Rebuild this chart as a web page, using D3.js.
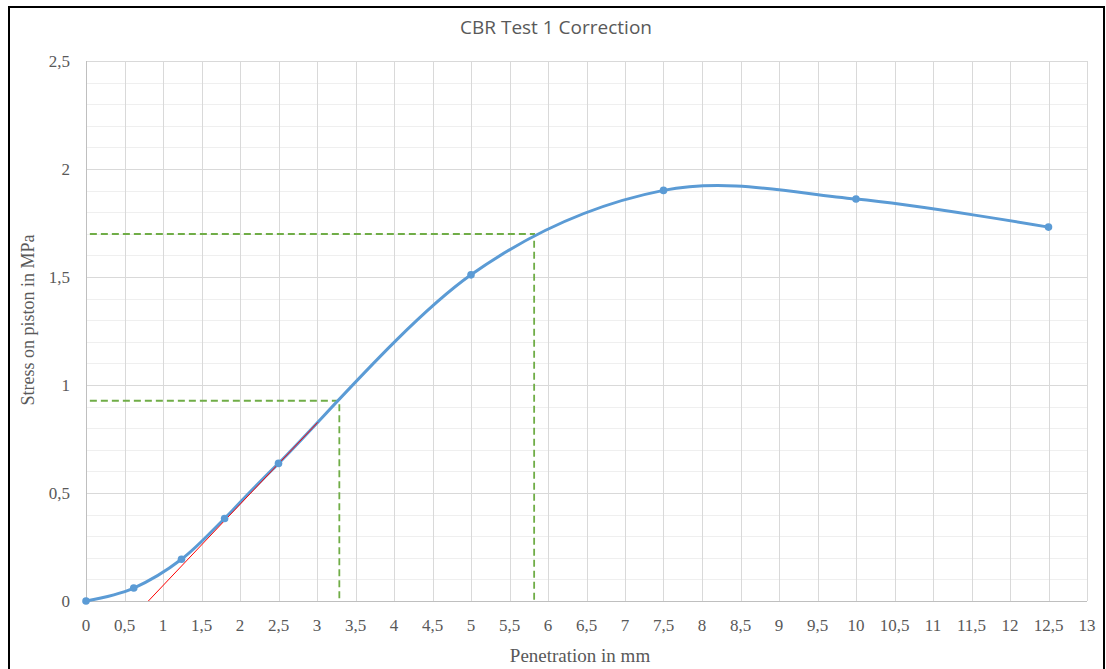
<!DOCTYPE html>
<html><head><meta charset="utf-8">
<script src="https://cdn.jsdelivr.net/npm/d3@7"></script>
<style>html,body{margin:0;padding:0;background:#fff;}</style>
</head><body>
<script>
const penetration = [0, 0.62, 1.24, 1.8, 2.5, 5, 7.5, 10, 12.5];
const stress = [0, 0.06, 0.193, 0.382, 0.637, 1.51, 1.901, 1.861, 1.731];
const tangentLine = [[0.81, 0], [3.01, 0.827]];
const guide1 = [[0.05, 0.927], [3.29, 0.927], [3.29, 0]];
const guide2 = [[0.05, 1.699], [5.82, 1.699], [5.82, 0]];
const xTicks = d3.range(0, 13.01, 0.5);
const yTicks = [0, 0.5, 1, 1.5, 2, 2.5];
const yMinor = d3.range(0, 2.501, 0.1);
const title = "CBR Test 1 Correction";
const xTitle = "Penetration in mm";
const yTitle = "Stress on piston in MPa";

const W = 1106, H = 669;
const svg = d3.select("body").append("svg").attr("width", W).attr("height", H);
svg.append("rect").attr("x", 9).attr("y", 7).attr("width", 1095).attr("height", 700)
  .attr("fill", "#fff").attr("stroke", "#000").attr("stroke-width", 2);

const x = d3.scaleLinear().domain([0, 13]).range([86, 1087]);
const y = d3.scaleLinear().domain([0, 2.5]).range([601, 61]);
const fmt = d => String(+d.toFixed(1)).replace(".", ",");

// minor horizontal grid
svg.append("g").selectAll("line").data(yMinor).join("line")
  .attr("x1", x(0)).attr("x2", x(13)).attr("y1", d => Math.round(y(d)) + 0.5).attr("y2", d => Math.round(y(d)) + 0.5)
  .attr("stroke", "#efefef").attr("stroke-width", 1);
// major grid
svg.append("g").selectAll("line").data(yTicks).join("line")
  .attr("x1", x(0)).attr("x2", x(13)).attr("y1", d => Math.round(y(d)) + 0.5).attr("y2", d => Math.round(y(d)) + 0.5)
  .attr("stroke", "#d9d9d9").attr("stroke-width", 1);
svg.append("g").selectAll("line").data(xTicks).join("line")
  .attr("y1", y(0)).attr("y2", y(2.5)).attr("x1", d => Math.round(x(d)) + 0.5).attr("x2", d => Math.round(x(d)) + 0.5)
  .attr("stroke", "#d9d9d9").attr("stroke-width", 1);
// axis lines
svg.append("line").attr("x1", x(0)).attr("x2", x(13)).attr("y1", Math.round(y(0)) + 0.5).attr("y2", Math.round(y(0)) + 0.5).attr("stroke", "#bfbfbf");
svg.append("line").attr("x1", Math.round(x(0)) + 0.5).attr("x2", Math.round(x(0)) + 0.5).attr("y1", y(0)).attr("y2", y(2.5)).attr("stroke", "#bfbfbf");

// tick labels
const tickFont = "'Liberation Serif','Times New Roman',serif";
svg.append("g").selectAll("text").data(xTicks).join("text")
  .attr("x", d => x(d)).attr("y", 631).attr("text-anchor", "middle")
  .attr("font-family", tickFont).attr("font-size", 17).attr("fill", "#595959").text(fmt);
svg.append("g").selectAll("text").data(yTicks).join("text")
  .attr("x", 70).attr("y", d => y(d) + 6).attr("text-anchor", "end")
  .attr("font-family", tickFont).attr("font-size", 17).attr("fill", "#595959").text(fmt);

// titles
svg.append("text").attr("x", 556).attr("y", 34).attr("text-anchor", "middle")
  .attr("font-family", "'Open Sans','Liberation Sans',sans-serif").attr("font-size", 19).attr("fill", "#595959").text(title);
svg.append("text").attr("x", 580).attr("y", 662).attr("text-anchor", "middle")
  .attr("font-family", tickFont).attr("font-size", 19).attr("fill", "#595959").text(xTitle);
svg.append("text").attr("transform", "translate(34,320) rotate(-90)").attr("text-anchor", "middle")
  .attr("font-family", tickFont).attr("font-size", 18).attr("fill", "#595959").text(yTitle);

// guides
const lineGen = d3.line().x(d => x(d[0])).y(d => y(d[1]));
[guide1, guide2].forEach(g => svg.append("path").attr("d", lineGen(g)).attr("fill", "none")
  .attr("stroke", "#70ad47").attr("stroke-width", 1.8).attr("stroke-dasharray", "7,4"));

// data curve
const pts = penetration.map((p, i) => [p, stress[i]]);
svg.append("path").attr("d", d3.line().x(d => x(d[0])).y(d => y(d[1])).curve(d3.curveCardinal.tension(0))(pts))
  .attr("fill", "none").attr("stroke", "#5b9bd5").attr("stroke-width", 3).attr("stroke-linecap", "round");
// tangent
svg.append("path").attr("d", lineGen(tangentLine)).attr("fill", "none").attr("stroke", "#ff0000").attr("stroke-width", 1);
// markers
svg.append("g").selectAll("circle").data(pts).join("circle")
  .attr("cx", d => x(d[0])).attr("cy", d => y(d[1])).attr("r", 3.8).attr("fill", "#5b9bd5");
</script>
</body></html>
